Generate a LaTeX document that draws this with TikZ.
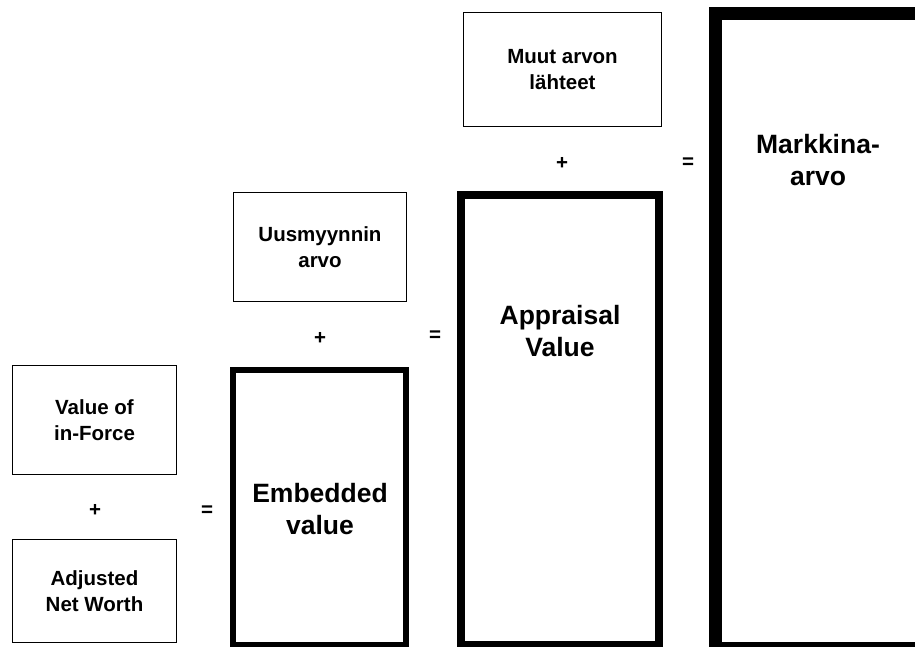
\documentclass[tikz,border=0pt]{standalone}
\usepackage{fontspec}
\setmainfont{Liberation Sans}

\begin{document}
\begin{tikzpicture}[x=1pt, y=-1pt,
    every node/.style={font=\bfseries\fontsize{20.5}{26}\selectfont},
    part/.style={rectangle, draw, line width=1.4pt, align=center, inner sep=0pt},
    total/.style={rectangle, draw, inner sep=0pt},
    big/.style={align=center, font=\bfseries\fontsize{26.5}{32}\selectfont}]
  \useasboundingbox (0,0) rectangle (915,647);

  % parts
  \node[part, minimum width=163.5pt, minimum height=108.5pt] (vif) at (94.5,420)
    {Value of\\in-Force};
  \node[part, minimum width=163.5pt, minimum height=102.5pt] (anw) at (94.5,591)
    {Adjusted\\Net Worth};
  \node[part, minimum width=172.5pt, minimum height=108.5pt] (uus) at (320,247)
    {Uusmyynnin\\arvo};
  \node[part, minimum width=197.5pt, minimum height=113.5pt] (muut) at (562.5,69.5)
    {Muut arvon\\lähteet};

  % totals
  \node[total, line width=6pt, minimum width=173pt, minimum height=275pt] (ev) at (319.5,507.5) {};
  \node[total, line width=8.5pt, minimum width=198pt, minimum height=450pt] (ap) at (560,420) {};
  \node[total, line width=13pt, minimum width=206pt, minimum height=634pt] (mk) at (818,331) {};

  \node[big] (evtxt) at (320,509) {Embedded\\value};
  \node[big] (aptxt) at (560,331) {Appraisal\\Value};
  \node[big] (mktxt) at (818,160) {Markkina-\\arvo};

  % signs
  \node (plus1) at (95,510) {+};
  \node (eq1) at (207,511) {=};
  \node (plus2) at (320,338) {+};
  \node (eq2) at (435,336) {=};
  \node (plus3) at (562,163) {+};
  \node (eq3) at (688,163) {=};
\end{tikzpicture}
\end{document}
